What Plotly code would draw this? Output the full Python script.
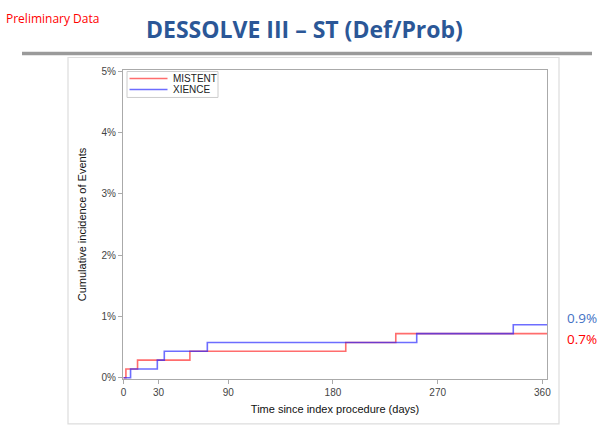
import plotly.graph_objects as go

# Data
mistent_days = [0, 2, 12, 57, 191, 234, 364]
mistent_pct = [0, 0.144, 0.288, 0.432, 0.576, 0.72, 0.72]
xience_days = [0, 6, 29, 35, 72, 252, 335, 364]
xience_pct = [0, 0.144, 0.288, 0.432, 0.576, 0.72, 0.864, 0.864]
x_ticks = [0, 30, 90, 180, 270, 360]
y_ticks = [0, 1, 2, 3, 4, 5]
y_ticktext = ["0%", "1%", "2%", "3%", "4%", "5%"]

RED = "rgba(255,30,30,0.65)"
BLUE = "rgba(30,30,255,0.65)"

W, H = 600, 429
L, R, T, B = 123, 547, 69.5, 379  # plot area in pixels


def px(x):
    return (x - L) / (R - L)


def py(y):
    return (B - y) / (B - T)


fig = go.Figure()
fig.add_trace(go.Scatter(x=mistent_days, y=mistent_pct, mode="lines", name="MISTENT",
                         line=dict(color=RED, width=1.6, shape="hv")))
fig.add_trace(go.Scatter(x=xience_days, y=xience_pct, mode="lines", name="XIENCE",
                         line=dict(color=BLUE, width=1.6, shape="hv")))

axis_common = dict(showline=True, linecolor="#aaaaaa", linewidth=1, mirror=True,
                   showgrid=False, zeroline=False, ticks="outside", ticklen=4,
                   tickcolor="#aaaaaa",
                   tickfont=dict(family="Liberation Sans, Arial", size=10, color="#444444"))

fig.update_xaxes(range=[-0.5, 364], tickvals=x_ticks,
                 title=dict(text="Time since index procedure (days)", standoff=8,
                            font=dict(family="Liberation Sans, Arial", size=11, color="#111111")),
                 **axis_common)
fig.update_yaxes(range=[-0.02, 5.02], tickvals=y_ticks, ticktext=y_ticktext,
                 title=dict(text="Cumulative incidence of Events", standoff=12,
                            font=dict(family="Liberation Sans, Arial", size=11, color="#111111")),
                 **axis_common)

shapes = [
    # gray rule under title
    dict(type="line", xref="paper", yref="paper", x0=px(22), x1=px(592), y0=py(53), y1=py(53),
         line=dict(color="#9a9a9a", width=3.5)),
    # panel box
    dict(type="rect", xref="paper", yref="paper", x0=px(68), x1=px(559), y0=py(424), y1=py(57),
         line=dict(color="#dddddd", width=1.2), layer="below"),
    # legend box
    dict(type="rect", xref="paper", yref="paper", x0=px(127), x1=px(218), y0=py(97), y1=py(71),
         line=dict(color="#cccccc", width=1), fillcolor="white"),
    dict(type="line", xref="paper", yref="paper", x0=px(129.5), x1=px(167.5), y0=py(78), y1=py(78),
         line=dict(color=RED, width=1.4)),
    dict(type="line", xref="paper", yref="paper", x0=px(129.5), x1=px(167.5), y0=py(89), y1=py(89),
         line=dict(color=BLUE, width=1.4)),
]

annotations = [
    dict(text="Preliminary Data", x=px(4), y=py(18), xref="paper", yref="paper",
         xanchor="left", yanchor="middle", showarrow=False,
         font=dict(family="Open Sans", size=12, color="#ff0000")),
    dict(text="<b>DESSOLVE III – ST (Def/Prob)</b>", x=px(304), y=py(28.5), xref="paper", yref="paper",
         xanchor="center", yanchor="middle", showarrow=False,
         font=dict(family="Open Sans", size=23, color="#2b5797")),
    dict(text="0.9%", x=px(565), y=py(318), xref="paper", yref="paper",
         xanchor="left", yanchor="middle", showarrow=False,
         font=dict(family="Open Sans", size=13.5, color="#4472c4")),
    dict(text="0.7%", x=px(565), y=py(339), xref="paper", yref="paper",
         xanchor="left", yanchor="middle", showarrow=False,
         font=dict(family="Open Sans", size=13.5, color="#ff0000")),
    dict(text="MISTENT", x=px(171), y=py(78), xref="paper", yref="paper",
         xanchor="left", yanchor="middle", showarrow=False,
         font=dict(family="Liberation Sans, Arial", size=10, color="#222222")),
    dict(text="XIENCE", x=px(171), y=py(89), xref="paper", yref="paper",
         xanchor="left", yanchor="middle", showarrow=False,
         font=dict(family="Liberation Sans, Arial", size=10, color="#222222")),
]

fig.update_layout(
    width=W, height=H, autosize=False,
    margin=dict(l=L, r=W - R, t=T, b=H - B),
    paper_bgcolor="white", plot_bgcolor="white",
    shapes=shapes, annotations=annotations,
    showlegend=False,
)

fig.write_html("out.html", config={"displayModeBar": False},
               post_script="document.body.style.margin='0';document.body.style.overflow='hidden';")
